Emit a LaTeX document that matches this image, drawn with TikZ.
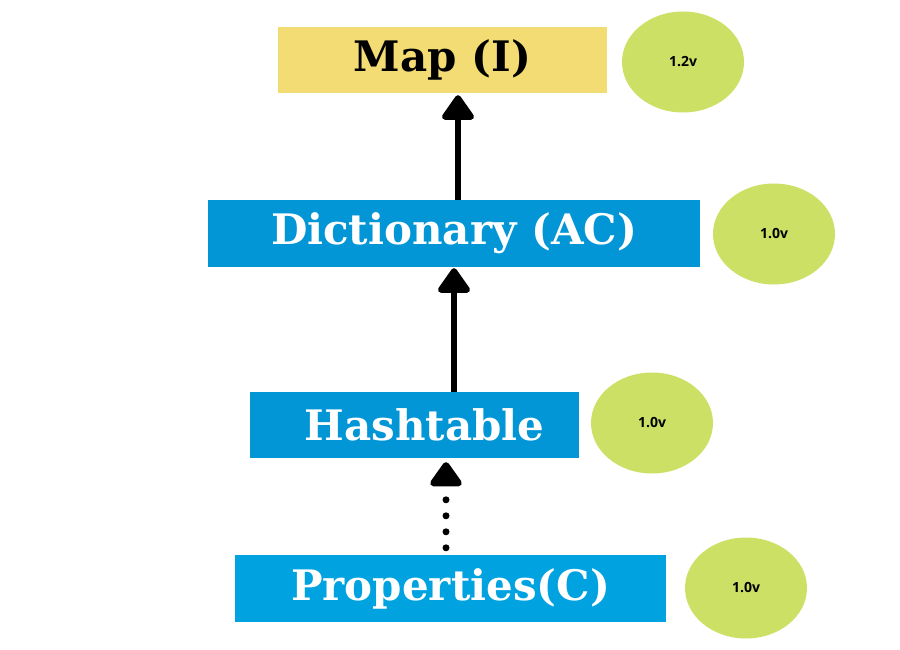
\documentclass[tikz,border=0pt]{standalone}
\usepackage{fontspec}
\usetikzlibrary{arrows.meta,positioning,shapes.geometric}
\newfontfamily\boxfont{DejaVu Serif}
\newfontfamily\versionfont{Open Sans}
\definecolor{mapfill}{RGB}{243,220,116}
\definecolor{clsfill}{RGB}{3,150,214}
\definecolor{propfill}{RGB}{0,163,224}
\definecolor{verfill}{RGB}{205,224,102}

\begin{document}
\begin{tikzpicture}[x=1pt,y=-1pt, %% pixel grid, y runs down
            cls/.style={rectangle, inner sep=0pt, minimum height=66pt, text=white,
                font=\boxfont\bfseries\fontsize{42}{46}\selectfont},
            ver/.style={ellipse, fill=verfill, inner sep=0pt, minimum width=122pt,
                minimum height=101pt, font=\versionfont\bfseries\fontsize{14}{16}\selectfont},
            up/.style={line width=6pt, -{Triangle[width=36pt,length=27pt,round]}},
            dotup/.style={line width=7pt, line cap=round, dash pattern=on 0pt off 16pt,
                -{Triangle[width=36pt,length=27pt,round]}}]
            \useasboundingbox (0,0) rectangle (900,650);

            \node[cls, fill=mapfill, text=black, minimum width=329pt] (map) at (442.5,60) {Map (I)};
            \node[cls, fill=clsfill, minimum width=492pt, minimum height=67pt] (dict) at (454,233.5) {Dictionary (AC)};
            \node[cls, fill=clsfill, minimum width=329pt] (hash) at (414.5,425) {\hspace*{20pt}Hashtable};
            \node[cls, fill=propfill, minimum width=431pt, minimum height=67pt] (prop) at (450.5,588.5) {Properties(C)};

            \node[ver] (vmap) at (683,62) {1.2v};
            \node[ver] (vdict) at (774,234) {1.0v};
            \node[ver] (vhash) at (652,423) {1.0v};
            \node[ver] (vprop) at (746,588) {1.0v};

            \draw[up, shorten >=2pt] ([xshift=4pt]dict.north) -- ([xshift=4pt]dict.north |- map.south);
            \draw[up, shorten >=1pt] (hash.north -| dict.south) -- (dict.south);
            \draw[dotup, shorten <=7pt, shorten >=4pt] ([xshift=-4.5pt]prop.north) -- ([xshift=-4.5pt]prop.north |- hash.south);
\end{tikzpicture}
\end{document}
